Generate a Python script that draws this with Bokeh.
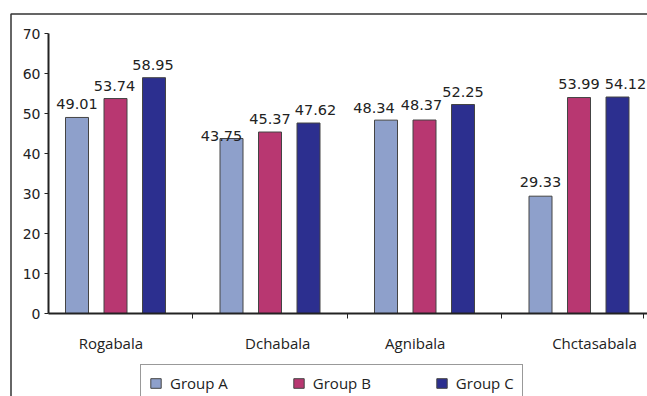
from bokeh.plotting import figure
from bokeh.models import (ColumnDataSource, LinearAxis, FixedTicker, Legend, LegendItem,
                          BoxAnnotation)
from bokeh.core.properties import value
from bokeh.embed import file_html
from bokeh.resources import INLINE

# ---- data ----
categories = ["Rogabala", "Dchabala", "Agnibala", "Chctasabala"]
group_a = [49.01, 43.75, 48.34, 29.33]
group_b = [53.74, 45.37, 48.37, 53.99]
group_c = [58.95, 47.62, 52.25, 54.12]
series_names = ["Group A", "Group B", "Group C"]
y_ticks = [0, 10, 20, 30, 40, 50, 60, 70]

# ---- layout / style ----
W, H = 647, 396
FRAME_L, FRAME_T = 8, 11
BOX_L, BOX_T = 10.5, 13.5       # pixel position of outer chart-area border
X0, DX = 115.0, 154.5          # pixel centre of first group, pixel step per group
Y0, SY = 313.0, 4.0            # pixel of value 0, pixels per unit
BAR_STEP = 38.5 / DX
BAR_W = 23.0 / DX
YAXIS_X = (48 - X0) / DX
label_shift = [-0.03, 0.05, -0.06, 0.10]
# per-label pixel nudges of the value labels (as placed in the original)
lbl_dx = [[0, -10, -12, 0], [-1, 0, -3, 0], [-1, 7, 0, 8]]
lbl_dy = [[0, 10, 1, -1], [0, 0, -2, -1], [0, 0, 0, 0]]
colors = ["#8EA0CB", "#B83771", "#2C2F8F"]
TXT = "#222222"

p = figure(width=W, height=H, output_backend="svg", toolbar_location=None,
           x_axis_location=None, y_axis_location=None,
           x_range=((FRAME_L - X0) / DX, (W - X0) / DX),
           y_range=((Y0 - H) / SY, (Y0 - FRAME_T) / SY),
           min_border_left=FRAME_L, min_border_top=FRAME_T,
           min_border_right=0, min_border_bottom=0)
p.outline_line_color = None
p.grid.visible = False
p.background_fill_color = "white"
p.border_fill_color = "white"

# outer chart-area box (right and bottom edges fall outside the picture)
p.add_layout(BoxAnnotation(left=(BOX_L - X0) / DX, top=(Y0 - BOX_T) / SY,
                           right=100, bottom=-500,
                           fill_alpha=0, line_color="#333333", line_width=1.5,
                           line_alpha=1))

idx = list(range(len(categories)))
renderers = []
for k, (vals, col) in enumerate(zip([group_a, group_b, group_c], colors)):
    xs = [i + (k - 1) * BAR_STEP for i in idx]
    src = ColumnDataSource(dict(x=xs, top=vals, lbl=[f"{v:.2f}" for v in vals],
                                dx=lbl_dx[k], dy=[d - 13 for d in lbl_dy[k]]))
    r = p.vbar(x="x", top="top", bottom=0, width=BAR_W, source=src,
               fill_color=col, line_color="#444444", line_width=1)
    renderers.append(r)
    p.text(x="x", y="top", text="lbl", source=src, text_align="center",
           text_baseline="alphabetic", x_offset="dx", y_offset="dy",
           text_font=value("DejaVu Sans"), text_font_size="14.5px", text_color=TXT)

# category labels
cat_src = ColumnDataSource(dict(x=[i + s for i, s in zip(idx, label_shift)],
                                y=[0] * len(categories), t=categories))
p.text(x="x", y="y", text="t", source=cat_src, text_align="center",
       text_baseline="alphabetic", y_offset=29,
       text_font=value("Open Sans"), text_font_size="15px", text_color=TXT)

# y axis
yax = LinearAxis(fixed_location=YAXIS_X, bounds=(0, 70),
                 ticker=FixedTicker(ticks=y_ticks, minor_ticks=[]))
yax.axis_line_width = 2
yax.axis_line_color = "#222222"
yax.major_tick_line_color = "#222222"
yax.major_tick_out = 4
yax.major_tick_in = 0
yax.minor_tick_line_color = None
yax.major_label_standoff = 4
yax.major_label_text_font = "DejaVu Sans"
yax.major_label_text_font_size = "14px"
yax.major_label_text_color = TXT
p.add_layout(yax, "left")

# x axis
xax = LinearAxis(fixed_location=0, bounds=(YAXIS_X, 4),
                 ticker=FixedTicker(ticks=[0.5, 1.5, 2.5, 3.42], minor_ticks=[]))
xax.axis_line_width = 2
xax.axis_line_color = "#222222"
xax.major_tick_line_color = "#222222"
xax.major_tick_out = 5
xax.major_tick_in = 0
xax.minor_tick_line_color = None
xax.major_label_text_font_size = "0px"
xax.major_label_text_color = None
p.add_layout(xax, "below")

legend = Legend(items=[LegendItem(label=n, renderers=[r]) for n, r in zip(series_names, renderers)],
                orientation="horizontal", location=(132, -6),
                glyph_width=13, glyph_height=12, label_standoff=8, spacing=64,
                padding=8, margin=0,
                label_text_font="Open Sans", label_text_font_size="15px",
                label_text_color=TXT, border_line_color="#333333", border_line_width=1,
                background_fill_alpha=1)
p.add_layout(legend, "center")

open("out.html", "w").write(file_html(p, INLINE))
